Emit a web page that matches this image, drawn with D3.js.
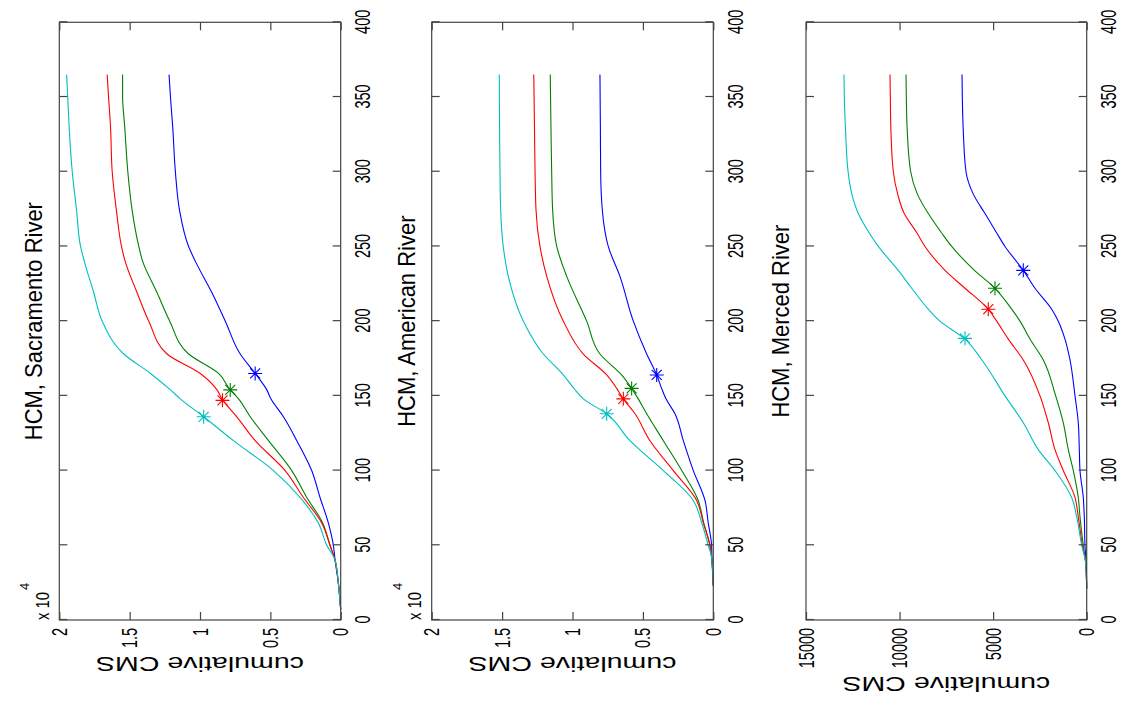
<!DOCTYPE html>
<html>
<head>
<meta charset="utf-8">
<script src="https://cdn.jsdelivr.net/npm/d3@7"></script>
<style>
  body { margin: 0; background: #fff; }
  text { font-family: "Liberation Sans", Arial, sans-serif; fill: #000; }
</style>
</head>
<body>
<div id="body"></div>
<script>
// ---- data (day of year, cumulative CMS) ----
let days1 = [7, 25, 40, 50, 65, 82, 100, 120, 136, 148, 154, 165, 178, 200, 219, 241, 250, 274, 300, 330, 350, 365]
let blue1 = [0, 170, 400, 520, 880, 1470, 2060, 3120, 4070, 4960, 5250, 6080, 7140, 8200, 9150, 10380, 10810, 11450, 11750, 11940, 12100, 12200]
let green1 = [0, 170, 400, 760, 1280, 2410, 3480, 5130, 6430, 7260, 7850, 8680, 10810, 12150, 13050, 14110, 14350, 14820, 15130, 15350, 15500, 15500]
let red1 = [0, 170, 400, 760, 1350, 2650, 3950, 6080, 7380, 8440, 8790, 9980, 12340, 13640, 14470, 15350, 15580, 15940, 16240, 16360, 16500, 16600]
let cyan1 = [0, 170, 400, 990, 1590, 2890, 4780, 7620, 9740, 11400, 12100, 13520, 15420, 16950, 17550, 18250, 18490, 18770, 19080, 19300, 19400, 19480]
let starDays1 = [165, 154, 147, 136]
let starVals1 = [6080, 7850, 8400, 9740]

let days2 = [23, 42, 50, 65, 80, 100, 120, 138, 148, 155, 164, 178, 200, 230, 250, 274, 300, 330, 365]
let blue2 = [0, 100, 120, 360, 590, 1420, 2130, 2720, 3360, 3670, 4020, 4730, 5680, 6630, 7460, 7880, 8000, 8020, 8050]
let green2 = [0, 120, 240, 680, 1070, 2240, 3550, 4730, 5330, 5800, 6510, 8050, 8990, 10410, 11120, 11410, 11480, 11530, 11580]
let red2 = [0, 120, 240, 710, 1180, 2840, 4500, 5560, 6390, 6860, 7570, 9230, 10650, 11830, 12310, 12590, 12660, 12700, 12750]
let cyan2 = [0, 120, 360, 820, 1420, 3550, 5920, 7570, 9230, 9900, 10650, 12070, 13490, 14560, 14920, 15100, 15150, 15180, 15200]
let starDays2 = [164, 155, 148, 138]
let starVals2 = [4020, 5800, 6390, 7570]

let days3 = [21, 38, 50, 69, 82, 100, 114, 132, 150, 174, 188, 200, 208, 222, 234, 250, 259, 272, 285, 300, 326, 350, 365]
let blue3 = [0, 30, 91, 128, 182, 358, 395, 449, 625, 892, 1160, 1518, 1870, 2763, 3388, 4366, 4810, 5435, 6060, 6450, 6592, 6647, 6663]
let green3 = [0, 53, 182, 358, 449, 716, 983, 1250, 1657, 2319, 3030, 3564, 4008, 4900, 6000, 7214, 7750, 8464, 9050, 9405, 9585, 9640, 9656]
let red3 = [0, 53, 235, 449, 625, 1250, 1694, 2052, 2496, 3388, 4188, 4810, 5260, 6503, 7572, 8641, 9070, 9750, 10100, 10333, 10458, 10494, 10511]
let cyan3 = [0, 53, 267, 534, 802, 1694, 2586, 3388, 4366, 5600, 6503, 7840, 8464, 9352, 10068, 11136, 11620, 12205, 12550, 12750, 12880, 12953, 12970]
let starDays3 = [234, 222, 208, 188.5]
let starVals3 = [3388, 4900, 5260, 6503]

let dayTicks = [0, 50, 100, 150, 200, 250, 300, 350, 400]
let cmsTicks4 = [0, 5000, 10000, 15000, 20000]
let cmsTicks3 = [0, 5000, 10000, 15000]
let titles = ["HCM, Sacramento River", "HCM, American River", "HCM, Merced River"]
let colors = ["#0000ff", "#008000", "#ff0000", "#00bfbf"]   // matlab default order

// ---- figure: drawn as the original upright matlab figure, then turned 90deg ----
let svg = d3.select("#body")
  .append("svg")
  .attr("width", 1127)
  .attr("height", 708)
svg.append("rect").attr("width", 1127).attr("height", 708).attr("fill", "#fff")

let fig = svg.append("g")
  .attr("transform", "translate(0,708) rotate(-90)")

let x = d3.scaleLinear().domain([0, 400]).range([88, 685.7])

let panels = [
  { days: days1, series: [blue1, green1, red1, cyan1], sd: starDays1, sv: starVals1,
    top: 59.3, bottom: 340.7, max: 20000, ticks: cmsTicks4, exp: true, labelX: 51 },
  { days: days2, series: [blue2, green2, red2, cyan2], sd: starDays2, sv: starVals2,
    top: 431.7, bottom: 713.3, max: 20000, ticks: cmsTicks4, exp: true, labelX: 51 },
  { days: days3, series: [blue3, green3, red3, cyan3], sd: starDays3, sv: starVals3,
    top: 806, bottom: 1086.7, max: 15000, ticks: cmsTicks3, exp: false, labelX: 31.3 }
]

let axisColor = "#444"

panels.forEach(function (p, k) {
  let y = d3.scaleLinear().domain([0, p.max]).range([p.bottom, p.top])
  let g = fig.append("g")

  // data lines
  p.series.forEach(function (s, i) {
    let line = d3.line()
      .x(function (d, j) { return x(p.days[j]) })
      .y(function (d) { return y(d) })
      .curve(d3.curveMonotoneX)
    g.append("path")
      .datum(s)
      .attr("d", line)
      .attr("fill", "none")
      .attr("stroke", colors[i])
      .attr("stroke-width", 1.1)
  })

  // asterisk markers at the half-volume day
  p.sd.forEach(function (d, i) {
    g.append("path")
      .attr("transform", "translate(" + x(d) + "," + y(p.sv[i]) + ")")
      .attr("d", "M-7,0H7M0,-7V7M-5,-5L5,5M-5,5L5,-5")
      .attr("fill", "none")
      .attr("stroke", colors[i])
      .attr("stroke-width", 1.1)
  })

  // box
  g.append("rect")
    .attr("x", x(0))
    .attr("y", p.top)
    .attr("width", x(400) - x(0))
    .attr("height", p.bottom - p.top)
    .attr("fill", "none")
    .attr("stroke", axisColor)
    .attr("stroke-width", 1.2)

  // day axis (bottom, labelled) + mirrored top ticks
  let gx = g.append("g")
    .attr("transform", "translate(0," + p.bottom + ")")
    .call(d3.axisBottom(x).tickValues(dayTicks).tickSize(-8).tickSizeOuter(0).tickPadding(14))
  let gxt = g.append("g")
    .attr("transform", "translate(0," + p.top + ")")
    .call(d3.axisTop(x).tickValues(dayTicks).tickSize(-8).tickSizeOuter(0).tickFormat(""))

  // cms axis (left, labelled) + mirrored right ticks
  let fmt = p.exp ? function (d) { return d3.format("~g")(d / 10000) } : d3.format("d")
  let gy = g.append("g")
    .attr("transform", "translate(" + x(0) + ",0)")
    .call(d3.axisLeft(y).tickValues(p.ticks).tickSize(-8).tickSizeOuter(0).tickPadding(12).tickFormat(fmt))
  let gyr = g.append("g")
    .attr("transform", "translate(" + x(400) + ",0)")
    .call(d3.axisRight(y).tickValues(p.ticks).tickSize(-8).tickSizeOuter(0).tickFormat(""))

  ;[gx, gxt, gy, gyr].forEach(function (a) {
    a.select(".domain").remove()
    a.selectAll("line").attr("stroke", axisColor).attr("stroke-width", 1.2)
    a.selectAll("text")
      .attr("font-size", 22)
      .attr("font-family", "Liberation Sans, Arial, sans-serif")
      .attr("fill", "#000")
      .attr("transform", "scale(0.66,1)")
  })

  // title
  g.append("text")
    .attr("transform", "translate(" + (x(0) + x(400)) / 2 + "," + (p.top - 17) + ") scale(1,1.08)")
    .attr("text-anchor", "middle")
    .attr("font-size", 22)
    .text(titles[k])

  // y label
  g.append("text")
    .attr("transform", "translate(" + p.labelX + "," + (p.top + p.bottom) / 2 + ") rotate(-90)")
    .attr("text-anchor", "middle")
    .attr("font-size", 21)
    .attr("textLength", 208)
    .attr("lengthAdjust", "spacingAndGlyphs")
    .text("cumulative CMS")

  // x 10^4 multiplier
  if (p.exp) {
    g.append("text")
      .attr("x", x(0))
      .attr("y", p.top - 10.5)
      .attr("font-size", 19)
      .attr("textLength", 28)
      .attr("lengthAdjust", "spacingAndGlyphs")
      .text("x 10")
    g.append("text")
      .attr("x", x(0) + 30)
      .attr("y", p.top - 30)
      .attr("font-size", 13)
      .text("4")
  }
})
</script>
</body>
</html>
